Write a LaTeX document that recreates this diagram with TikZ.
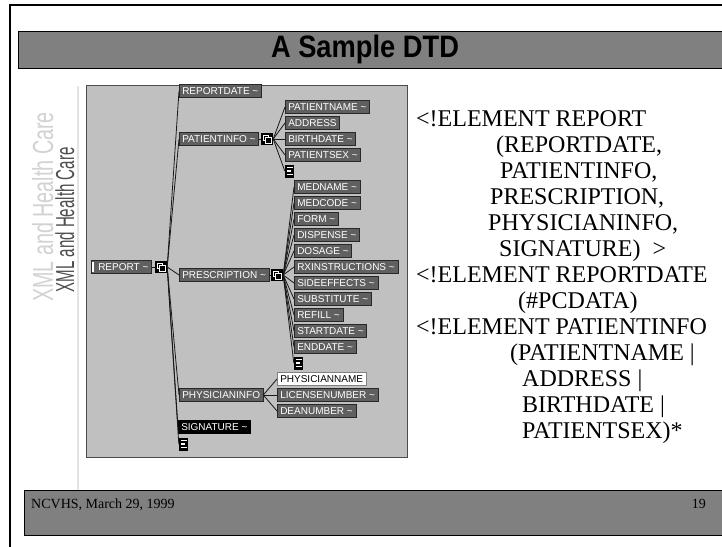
\documentclass[tikz,border=0pt]{standalone}
\usepackage{fontspec}
\setmainfont{Liberation Serif}
\setsansfont{Liberation Sans}
\usepackage{graphicx}

\definecolor{barGray}{RGB}{128,128,128}
\definecolor{panelGray}{RGB}{192,192,192}
\definecolor{tagFill}{RGB}{96,96,96}
\definecolor{tagEdge}{RGB}{40,40,40}
\definecolor{wireGray}{RGB}{25,25,25}
\definecolor{sideLight}{RGB}{210,210,210}
\definecolor{sideDark}{RGB}{78,78,78}
\definecolor{ruleLight}{RGB}{228,228,228}

\newcommand\tagfont{\sffamily\fontsize{10}{10}\selectfont}
\newcommand\dtdfont{\rmfamily\fontsize{24}{24}\selectfont}

\tikzset{
  tag/.style={anchor=west, fill=tagFill, draw=tagEdge, line width=0.5pt,
    text=white, font=\tagfont, inner xsep=3pt, inner ysep=0pt,
    minimum height=13pt, text height=7.2pt, text depth=0pt},
  tagsel/.style={tag, fill=black, draw=black},
  tagwhite/.style={tag, fill=white, draw=gray, text=black},
  seqicon/.style={minimum width=12pt, minimum height=12pt, inner sep=0pt,
    fill=black, path picture={
      \draw[white, line width=0.7pt]
        ([shift={(2pt,-2pt)}]path picture bounding box.north west) rectangle ++(5pt,-5pt);
      \draw[white, fill=black, line width=0.7pt]
        ([shift={(4.5pt,-4.5pt)}]path picture bounding box.north west) rectangle ++(5.5pt,-5.5pt);
    }},
  docicon/.style={minimum width=9pt, minimum height=13pt, inner sep=0pt,
    fill=black, path picture={
      \draw[white, line width=1.3pt]
        ([shift={(1.5pt,-3pt)}]path picture bounding box.north west) -- ++(6pt,0pt)
        ([shift={(1.5pt,-6.5pt)}]path picture bounding box.north west) -- ++(4pt,0pt)
        ([shift={(1.5pt,-10pt)}]path picture bounding box.north west) -- ++(6pt,0pt);
    }},
  wire/.style={draw=wireGray, line width=0.8pt},
  dtd/.style={anchor=base west, font=\dtdfont, inner sep=0pt},
}

\begin{document}
\begin{tikzpicture}[x=1pt, y=-1pt]
\useasboundingbox (0,0) rectangle (722,546);
\fill[white] (0,0) rectangle (722,546);

% slide frame
\draw[line width=2pt] (10,547) -- (10,5) -- (723,5);

% title bar
\draw[fill=barGray, draw=black, line width=0.8pt] (18,31) rectangle (724,68);
\node[font=\sffamily\bfseries\fontsize{31}{31}\selectfont, inner sep=0pt] (title) at (365,49.5)
  {\scalebox{0.88}[1]{A Sample DTD}};

% side caption and rule
\draw[ruleLight, line width=2pt] (78,86) -- (78,490);
\node[rotate=90, anchor=base, inner sep=0pt, text=sideLight,
      font=\sffamily\fontsize{29}{29}\selectfont] (sideA) at (53,207)
      {\scalebox{0.68}[1]{XML and Health Care}};
\node[rotate=90, anchor=base, inner sep=0pt, text=sideDark,
      font=\sffamily\fontsize{26}{26}\selectfont] (sideB) at (74,220)
      {\scalebox{0.58}[1]{XML and Health Care}};

% tree view panel
\draw[fill=panelGray, draw=black!70, line width=0.8pt] (86,85) rectangle (407,457);

% root
\node[tag] (rep) at (91,267) {\hspace{4pt}REPORT \textasciitilde};
\fill[white] (91.5,262) rectangle (93.5,272);
\node[seqicon] (ri) at (161,267) {};

% first level
\node[tag] (rd)   at (179,91)  {REPORTDATE \textasciitilde};
\node[tag] (pinf) at (179,139) {PATIENTINFO \textasciitilde};
\node[seqicon] (pic) at (267,139) {};
\node[tag] (pres) at (179,275) {PRESCRIPTION \textasciitilde};
\node[seqicon] (prc) at (277,275) {};
\node[tag] (phys) at (179,395) {PHYSICIANINFO};
\node[tagsel] (sig) at (178,427) {SIGNATURE \textasciitilde};
\node[docicon] (rdoc) at (183.5,444) {};

% patient info children
\node[tag] (pname) at (285,107) {PATIENTNAME \textasciitilde};
\node[tag] (addr)  at (285,123) {ADDRESS};
\node[tag] (birth) at (285,139) {BIRTHDATE \textasciitilde};
\node[tag] (psex)  at (285,155) {PATIENTSEX \textasciitilde};
\node[docicon] (pdoc) at (289.5,171) {};

% prescription children
\node[tag] (mname) at (294,187) {MEDNAME \textasciitilde};
\node[tag] (mcode) at (294,203) {MEDCODE \textasciitilde};
\node[tag] (form)  at (294,219) {FORM \textasciitilde};
\node[tag] (disp)  at (294,235) {DISPENSE \textasciitilde};
\node[tag] (dose)  at (294,251) {DOSAGE \textasciitilde};
\node[tag] (rx)    at (294,267) {RXINSTRUCTIONS \textasciitilde};
\node[tag] (side)  at (294,283) {SIDEEFFECTS \textasciitilde};
\node[tag] (subst) at (294,299) {SUBSTITUTE \textasciitilde};
\node[tag] (refil) at (294,315) {REFILL \textasciitilde};
\node[tag] (start) at (294,331) {STARTDATE \textasciitilde};
\node[tag] (endd)  at (294,347) {ENDDATE \textasciitilde};
\node[docicon] (mdoc) at (298.5,363) {};

% physician info children
\node[tagwhite] (phname) at (277,379) {PHYSICIANNAME};
\node[tag] (lic) at (277,395) {LICENSENUMBER \textasciitilde};
\node[tag] (dea) at (277,411) {DEANUMBER \textasciitilde};

% tree connectors
\draw[wire] (rep.east) -- (ri.west);
\foreach \c in {rd, pinf, pres, phys, sig, rdoc}
  \draw[wire] (ri.east) -- (\c.west);
\draw[wire] (pinf.east) -- (pic.west);
\foreach \c in {pname, addr, birth, psex, pdoc}
  \draw[wire] (pic.east) -- (\c.west);
\draw[wire] (pres.east) -- (prc.west);
\foreach \c in {mname, mcode, form, disp, dose, rx, side, subst, refil, start, endd, mdoc}
  \draw[wire] (prc.east) -- (\c.west);
\foreach \c in {phname, lic, dea}
  \draw[wire] (phys.east) -- (\c.west);

% DTD listing
\node[dtd] (l0)  at (416,126) {<!ELEMENT REPORT};
\node[dtd] (l1)  at (496,152) {(REPORTDATE,};
\node[dtd] (l2)  at (500,178) {PATIENTINFO,};
\node[dtd] (l3)  at (490,204) {PRESCRIPTION,};
\node[dtd] (l4)  at (488,230) {PHYSICIANINFO,};
\node[dtd] (l5)  at (499,256) {SIGNATURE)\ \ >};
\node[dtd] (l6)  at (416,282) {<!ELEMENT REPORTDATE};
\node[dtd] (l7)  at (518,308) {(\#PCDATA)};
\node[dtd] (l8)  at (416,334) {<!ELEMENT PATIENTINFO};
\node[dtd] (l9)  at (510,360) {(PATIENTNAME |};
\node[dtd] (l10) at (522,386) {ADDRESS |};
\node[dtd] (l11) at (522,412) {BIRTHDATE |};
\node[dtd] (l12) at (522,438) {PATIENTSEX)*};

% footer bar
\draw[fill=barGray, draw=black, line width=0.8pt] (24,490) rectangle (724,535);
\node[anchor=base west, inner sep=0pt, font=\rmfamily\fontsize{14}{14}\selectfont] (foot) at (31,508) {NCVHS, March 29, 1999};
\node[anchor=base east, inner sep=0pt, font=\rmfamily\fontsize{14}{14}\selectfont] (page) at (706,508) {19};
\end{tikzpicture}
\end{document}
